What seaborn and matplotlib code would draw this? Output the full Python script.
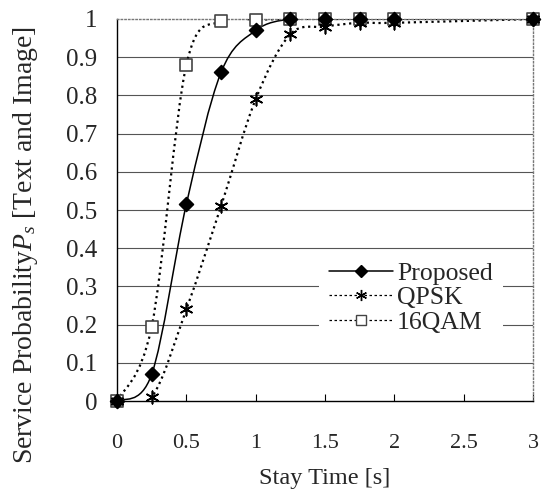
import numpy as np
import seaborn as sns
import matplotlib.pyplot as plt
from matplotlib.path import Path
from matplotlib.patches import PathPatch
from matplotlib.lines import Line2D

stay_time = [0, 0.25, 0.5, 0.75, 1.0, 1.25, 1.5, 1.75, 2.0, 3.0]
proposed = [0.0, 0.07, 0.515, 0.86, 0.97, 1.0, 1.0, 1.0, 1.0, 1.0]
qpsk = [0.0, 0.01, 0.24, 0.51, 0.79, 0.96, 0.98, 0.99, 0.99, 1.0]
qam16 = [0.0, 0.195, 0.88, 0.995, 0.998, 1.0, 1.0, 1.0, 1.0, 1.0]

x_ticks = [0, 0.5, 1, 1.5, 2, 2.5, 3]
y_ticks = [0, 0.1, 0.2, 0.3, 0.4, 0.5, 0.6, 0.7, 0.8, 0.9, 1]


def smooth_path(xs, ys):
    # excel style smoothed line: bezier segments through every point
    p = np.column_stack([xs, ys]).astype(float)
    n = len(p)
    verts = [p[0]]
    codes = [Path.MOVETO]
    for i in range(n - 1):
        p0 = p[i - 1] if i > 0 else p[i]
        p3 = p[i + 2] if i + 2 < n else p[i + 1]
        c1 = p[i] + (p[i + 1] - p0) / 6
        c2 = p[i + 1] - (p3 - p[i]) / 6
        verts += [c1, c2, p[i + 1]]
        codes += [Path.CURVE4] * 3
    return Path(verts, codes)


sns.set_style("white")
plt.rcParams['font.family'] = ['Liberation Serif', 'DejaVu Serif']
plt.rcParams['mathtext.fontset'] = 'custom'
plt.rcParams['mathtext.it'] = 'Liberation Serif:italic'
plt.rcParams['mathtext.rm'] = 'Liberation Serif'

fig = plt.figure(figsize=(5.43, 4.96), dpi=100)
ax = fig.add_axes([0.2155, 0.1915, 0.7661, 0.7702])

for y in y_ticks[1:-1]:
    ax.axhline(y, color='#555555', lw=0.8, zorder=0)

styles = [
    (qam16, ':', 's', 'white', '#444444', 70),
    (qpsk, ':', (6, 2, 0), 'black', 'black', 80),
    (proposed, '-', 'D', 'black', 'black', 50),
]
for vals, ls, mk, fc, ec, sz in styles:
    ax.add_patch(PathPatch(smooth_path(stay_time, vals), fill=False, ls=ls,
                           lw=1.6 if ls == ':' else 1.1, edgecolor='black',
                           transform=ax.transData, zorder=2))
for vals, ls, mk, fc, ec, sz in styles:
    sns.scatterplot(x=stay_time, y=vals, ax=ax, marker=mk, s=sz, color=fc,
                    edgecolor=ec, linewidth=1.2, zorder=3, clip_on=False)

ax.set_xlim(0, 3)
ax.set_ylim(0, 1)
ax.set_xticks(x_ticks)
ax.set_xticklabels(['0', '0.5', '1', '1.5', '2', '2.5', '3'])
ax.set_yticks(y_ticks)
ax.set_yticklabels(['0', '0.1', '0.2', '0.3', '0.4', '0.5', '0.6', '0.7',
                    '0.8', '0.9', '1'])
ax.tick_params(axis='x', direction='in', length=5, width=0.8, pad=24,
               labelsize=16, color='black', bottom=True)
ax.tick_params(axis='y', length=0, pad=14, labelsize=18)

for s in ['left', 'bottom']:
    ax.spines[s].set_color('black')
    ax.spines[s].set_linewidth(1.0)
for s in ['top', 'right']:
    ax.spines[s].set_color('#777777')
    ax.spines[s].set_linestyle(':')
    ax.spines[s].set_linewidth(1.0)

ax.set_xlabel('Stay Time [s]', fontsize=17.5)
ax.set_ylabel('Service Probability$P_s$ [Text and Image]', fontsize=20)
ax.xaxis.set_label_coords(0.5, -0.175)
ax.yaxis.set_label_coords(-0.186, 0.408)

handles = [
    Line2D([], [], color='black', ls='-', lw=1.1, marker='D', markersize=6),
    Line2D([], [], color='black', ls=(0, (2, 2)), lw=0.9, marker=(6, 2, 0),
           markersize=8),
    Line2D([], [], color='black', ls=(0, (2, 2)), lw=0.9, marker='s',
           markersize=7, markerfacecolor='white', markeredgecolor='#444444'),
]
leg = ax.legend(handles, ['Proposed', 'QPSK', '16QAM'], loc='center left',
                bbox_to_anchor=(0.485, 0.27), borderaxespad=0, fontsize=18.5,
                handlelength=2.5, handletextpad=0.15, labelspacing=0.05,
                frameon=True, fancybox=False, borderpad=0.4)
leg.get_frame().set_facecolor('white')
leg.get_frame().set_edgecolor('none')
leg.get_frame().set_alpha(1)

fig.savefig('out.png', dpi=100)
